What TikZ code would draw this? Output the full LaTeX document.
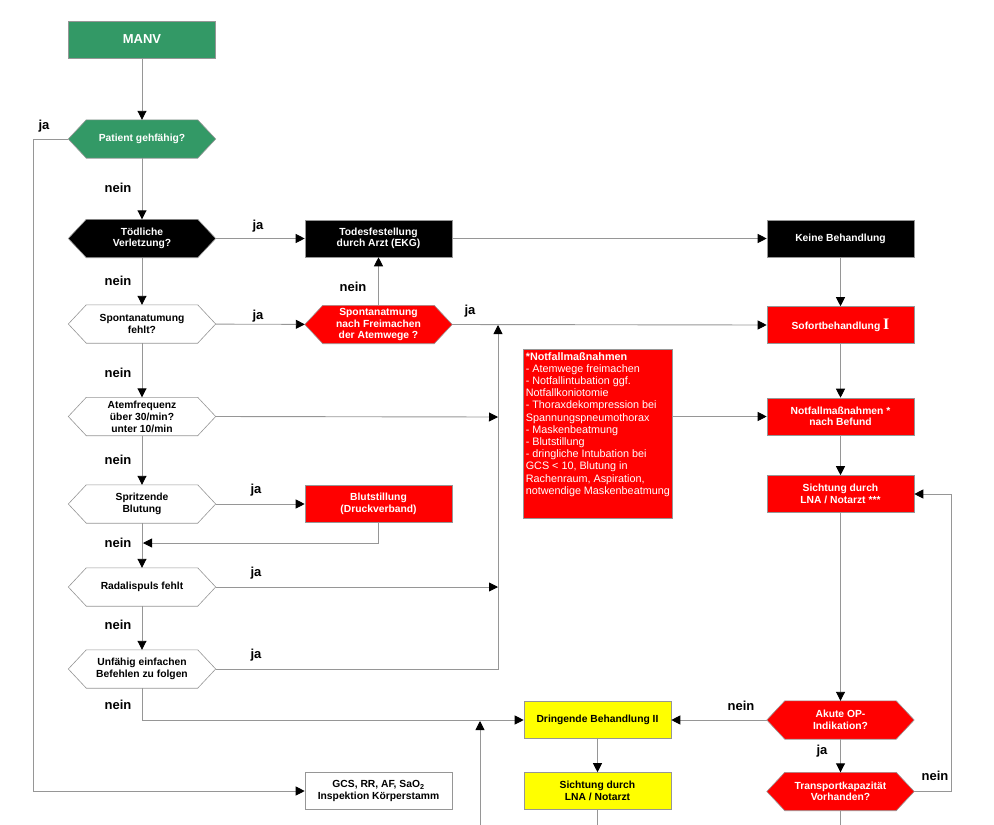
\documentclass[tikz,border=0pt]{standalone}
\usepackage{fontspec}
\setmainfont{Liberation Sans}
\newfontfamily\serifI{Liberation Serif}
\usetikzlibrary{arrows.meta,backgrounds}
\definecolor{mgreen}{RGB}{51,153,102}
\definecolor{lgray}{RGB}{150,150,150}
\definecolor{mred}{RGB}{255,0,0}
\definecolor{myellow}{RGB}{255,255,0}
\newcommand\hexa[2]{\path[draw=lgray, fill=#2, line width=0.6pt] (#1.west) -- ([xshift=18pt]#1.north west) -- ([xshift=-18pt]#1.north east) -- (#1.east) -- ([xshift=-18pt]#1.south east) -- ([xshift=18pt]#1.south west) -- cycle;}
\begin{document}
\begin{tikzpicture}[x=1pt,y=-1pt,
  base/.style={rectangle, minimum width=147pt, minimum height=37pt, inner sep=0pt, align=center, font=\fontsize{10.3}{11.5}\selectfont\bfseries},
  boxn/.style={base, draw=lgray, line width=0.6pt},
  hexn/.style={base, minimum height=38pt},
  lab/.style={font=\fontsize{13}{13}\selectfont\bfseries, inner sep=0pt},
  conn/.style={draw=lgray, line width=0.9pt, -{Triangle[length=9pt,width=9pt,color=black,fill=black]}},
  line/.style={draw=lgray, line width=0.9pt}]
\useasboundingbox (0,0) rectangle (994,825);
% nodes
\node[boxn, fill=mgreen, text=white, font=\fontsize{13}{13}\selectfont\bfseries] (manv) at (142,39.5) {MANV};
\node[hexn, text=white] (pat) at (142,139) {Patient gehfähig?};
\node[hexn, text=white] (toed) at (142,238.5) {Tödliche\\Verletzung?};
\node[boxn, fill=black, text=white] (todes) at (378.5,238.5) {Todesfestellung\\durch Arzt (EKG)};
\node[boxn, fill=black, text=white] (keine) at (840.5,238.5) {Keine Behandlung};
\node[hexn] (spont) at (142,324) {Spontanatumung\\fehlt?};
\node[hexn, text=white] (spfrei) at (378.5,324.5) {Spontanatmung\\nach Freimachen\\der Atemwege ?};
\node[boxn, fill=mred, text=white] (sofort) at (840.5,325) {Sofortbehandlung {\serifI\fontsize{16}{16}\selectfont\bfseries I}};
\node[hexn, font=\fontsize{10.3}{12}\selectfont\bfseries] (atem) at (142,416.5) {Atemfrequenz\\über 30/min?\\unter 10/min};
\node[boxn, fill=mred, text=white, anchor=north west, minimum width=149pt, minimum height=169pt] (note) at (523,349) {\parbox[c][163pt][t]{144pt}{\raggedright\fontsize{10.8}{12.2}\selectfont\mdseries\textbf{*Notfallmaßnahmen}\\- Atemwege freimachen\\- Notfallintubation ggf.\\Notfallkoniotomie\\- Thoraxdekompression bei\\Spannungspneumothorax\\- Maskenbeatmung\\- Blutstillung\\- dringliche Intubation bei\\GCS < 10, Blutung in\\Rachenraum, Aspiration,\\notwendige Maskenbeatmung}};
\node[boxn, fill=mred, text=white] (notf) at (840.5,416.5) {Notfallmaßnahmen *\\nach Befund};
\node[boxn, fill=mred, text=white] (sicht) at (840.5,494) {Sichtung durch\\LNA / Notarzt ***};
\node[hexn] (spritz) at (142,504) {Spritzende\\Blutung};
\node[boxn, fill=mred, text=white] (blut) at (378.5,504) {Blutstillung\\(Druckverband)};
\node[hexn] (radial) at (142,587) {Radalispuls fehlt};
\node[hexn] (unf) at (142,669) {Unfähig einfachen\\Befehlen zu folgen};
\node[boxn, fill=myellow] (dring) at (597.5,720) {Dringende Behandlung II};
\node[hexn, text=white] (akute) at (840.5,720) {Akute OP-\\Indikation?};
\node[boxn, fill=myellow] (sichty) at (597.5,791) {Sichtung durch\\LNA / Notarzt};
\node[hexn, text=white] (trans) at (840.5,791.5) {Transportkapazität\\Vorhanden?};
\node[boxn, fill=white] (gcs) at (378.5,791) {GCS, RR, AF, SaO\textsubscript{2}\\Inspektion Körperstamm};
% hexagons
\begin{scope}[on background layer]
\hexa{pat}{mgreen}
\hexa{toed}{black}
\hexa{spont}{white}
\hexa{spfrei}{mred}
\hexa{atem}{white}
\hexa{spritz}{white}
\hexa{radial}{white}
\hexa{unf}{white}
\hexa{akute}{mred}
\hexa{trans}{mred}
\end{scope}
% coordinates
\coordinate (cleft) at (33,139);
\coordinate (cj1) at (498,417);
\coordinate (cj2) at (498,587);
\coordinate (cjc) at (498,669);
\coordinate (cjtop) at (498,325);
\coordinate (cj3) at (143,543);
\coordinate (cb1) at (480,825);
\coordinate (cb2) at (480,721);
\coordinate (cright) at (951,791.5);
\coordinate (ctb) at (840.5,825);
\coordinate (cyb) at (597.5,825);
% connectors
\draw[conn] (manv) -- (pat);
\draw[conn] (pat.west) -- (cleft) |- (gcs.west);
\draw[conn] (pat) -- (toed);
\draw[conn] (toed) -- (todes);
\draw[conn] (todes) -- (keine);
\draw[conn] (toed) -- (spont);
\draw[conn] (spont) -- (spfrei);
\draw[conn] (spfrei) -- (todes);
\draw[conn] (spfrei.east) -- (sofort.west);
\draw[conn] (spont) -- (atem);
\draw[conn] (atem.east) -- (cj1);
\draw[conn] (atem) -- (spritz);
\draw[conn] (spritz) -- (blut);
\draw[conn] (blut.south) |- (cj3);
\draw[conn] (spritz) -- (radial);
\draw[conn] (radial.east) -- (cj2);
\draw[conn] (radial) -- (unf);
\draw[conn] (unf.east) -- (cjc) -- (cjtop);
\draw[conn] (unf.south) |- (dring.west);
\draw[conn] (cb1) -- (cb2);
\draw[conn] (note.east |- notf.west) -- (notf.west);
\draw[conn] (keine) -- (sofort);
\draw[conn] (sofort) -- (notf);
\draw[conn] (notf) -- (sicht);
\draw[conn] (sicht) -- (akute);
\draw[conn] (akute) -- (dring);
\draw[conn] (akute) -- (trans);
\draw[conn] (trans.east) -- (cright) |- (sicht.east);
\draw[line] (trans.south) -- (ctb);
\draw[conn] (dring) -- (sichty);
\draw[line] (sichty.south) -- (cyb);
% labels
\node[lab] (l1) at (44,126) {ja};
\node[lab] (l2) at (118,188) {nein};
\node[lab] (l3) at (258,226) {ja};
\node[lab] (l4) at (118,281) {nein};
\node[lab] (l5) at (258,316) {ja};
\node[lab] (l6) at (353,287) {nein};
\node[lab] (l7) at (470,311) {ja};
\node[lab] (l8) at (118,373) {nein};
\node[lab] (l9) at (118,460) {nein};
\node[lab] (l10) at (256,490) {ja};
\node[lab] (l11) at (118,543) {nein};
\node[lab] (l12) at (256,573) {ja};
\node[lab] (l13) at (118,625) {nein};
\node[lab] (l14) at (256,655) {ja};
\node[lab] (l15) at (118,705) {nein};
\node[lab] (l16) at (741,706) {nein};
\node[lab] (l17) at (822,751) {ja};
\node[lab] (l18) at (935,776) {nein};
\end{tikzpicture}
\end{document}
